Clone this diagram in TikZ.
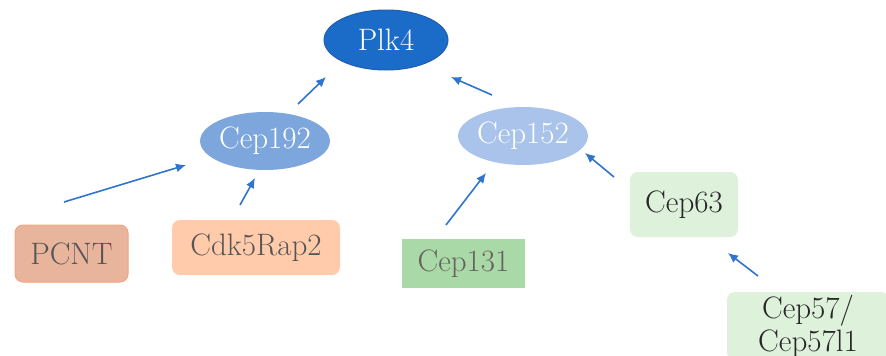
\documentclass[tikz,border=0pt]{standalone}
\usepackage{fontspec}
\usetikzlibrary{shapes.geometric,arrows.meta}
\definecolor{plkfill}{HTML}{1A6CC8}
\definecolor{plkdraw}{HTML}{1F5FAE}
\definecolor{c192}{HTML}{7DA6DC}
\definecolor{c152}{HTML}{A9C3EA}
\definecolor{pcntfill}{HTML}{E8B49C}
\definecolor{pcntdraw}{HTML}{F4A57E}
\definecolor{cdkfill}{HTML}{FFCBAA}
\definecolor{c131fill}{HTML}{A9D9A6}
\definecolor{lightgreen}{HTML}{DEF1DB}
\definecolor{arrowblue}{HTML}{2F74CF}
\definecolor{graytext}{HTML}{555555}
\definecolor{browntext}{HTML}{6B6060}
\begin{document}
\begin{tikzpicture}[x=1pt,y=-1pt,
  lbl/.style={font=\fontsize{31}{33}\selectfont, inner sep=0pt},
  ell/.style={lbl, ellipse, text=white},
  box/.style={lbl, rectangle, rounded corners=8pt},
  arr/.style={draw=arrowblue, line width=1.6pt, -{Latex[length=10pt,width=9pt]}}]
\useasboundingbox (0,0) rectangle (886,356);
\fill[white] (0,0) rectangle (886,356);

\node[ell, fill=plkfill, draw=plkdraw, line width=1pt, minimum width=124pt, minimum height=60pt] (plk4) at (386,40) {Plk4};
\node[ell, fill=c192, minimum width=120pt, minimum height=58pt] (cep192) at (265,141) {Cep192};
\node[ell, fill=c152, minimum width=127pt, minimum height=58pt] (cep152) at (523,136) {Cep152};

\node[box, fill=pcntfill, draw=pcntdraw, line width=1pt, text=graytext, minimum width=113pt, minimum height=57pt] (pcnt) at (71.5,253.5) {PCNT};
\node[box, fill=cdkfill, text=graytext, minimum width=168pt, minimum height=55pt] (cdk) at (256,247.5) {Cdk5Rap2};
\node[box, rounded corners=0pt, fill=c131fill, text=browntext, minimum width=123pt, minimum height=49pt] (cep131) at (463.5,263.5) {Cep131};
\node[box, fill=lightgreen, text=black!85, minimum width=108pt, minimum height=65pt] (cep63) at (684,204.5) {Cep63};
\node[box, fill=lightgreen, text=black!85, align=center, minimum width=162pt, minimum height=68pt] (cep57) at (808,326) {Cep57/\\Cep57l1};

\draw[arr] ([shift={(-7.5,-51.5)}]pcnt.center) -- ([shift={(-79,24)}]cep192.center);
\draw[arr] ([shift={(-16,-42.5)}]cdk.center) -- ([shift={(-10,37)}]cep192.center);
\draw[arr] ([shift={(33,-37)}]cep192.center) -- ([shift={(-60,37)}]plk4.center);
\draw[arr] ([shift={(-31,-41)}]cep152.center) -- ([shift={(65,37)}]plk4.center);
\draw[arr] ([shift={(-17.5,-38.5)}]cep131.center) -- ([shift={(-37,37)}]cep152.center);
\draw[arr] ([shift={(-70,-27.5)}]cep63.center) -- ([shift={(62,17)}]cep152.center);
\draw[arr] ([shift={(-50,-50)}]cep57.center) -- ([shift={(44,48.5)}]cep63.center);
\end{tikzpicture}
\end{document}
